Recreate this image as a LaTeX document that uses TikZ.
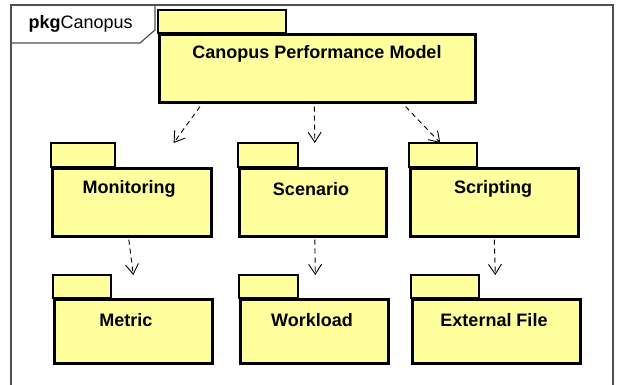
\documentclass[tikz,border=0pt]{standalone}
\usepackage{fontspec}
\setmainfont{Liberation Sans}
\usetikzlibrary{arrows.meta}

\definecolor{pkgyellow}{RGB}{255,255,158}
\definecolor{framegray}{RGB}{80,80,80}

\tikzset{
  pkgbody/.style={draw, line width=2.6pt, fill=pkgyellow, anchor=north west,
    inner sep=0pt, text depth=0pt},
  pkgtab/.style={draw, line width=2.6pt, fill=pkgyellow},
  pkgname/.style={font=\fontsize{18}{20}\selectfont\bfseries},
  dep/.style={line width=0.9pt, dash pattern=on 5pt off 4pt,
    -{Straight Barb[length=10pt,width=13pt,line width=0.9pt]}}
}

\begin{document}
\begin{tikzpicture}[x=1pt, y=-1pt]
    \useasboundingbox (0,0) rectangle (618,385);

    % Frame
    \draw[framegray, line width=1.2pt] (11,386) -- (11,5) -- (613,5) -- (613,386);
    \draw[framegray, line width=1.2pt] (11,43) -- (140,43) -- (155,30) -- (155,5);
    \node[anchor=west, font=\fontsize{18}{20}\selectfont] (frm) at (25,24) {\textbf{pkg}Canopus};

    % Canopus Performance Model
    \draw[pkgtab] (158,10) rectangle (286,33);
    \node[pkgbody, minimum width=316pt, minimum height=68pt] (cpm) at (158,33) {};
    \node[pkgname] (cpmt) at (317,54) {Canopus Performance Model};

    % Monitoring
    \draw[pkgtab] (51,143) rectangle (115,167);
    \node[pkgbody, minimum width=159pt, minimum height=68pt] (mon) at (51,167) {};
    \node[pkgname] (mont) at (129,189) {Monitoring};

    % Scenario
    \draw[pkgtab] (238,143) rectangle (298,167);
    \node[pkgbody, minimum width=147pt, minimum height=68pt] (scn) at (238,167) {};
    \node[pkgname] (scnt) at (311,189) {Scenario};

    % Scripting
    \draw[pkgtab] (409,143) rectangle (477,167);
    \node[pkgbody, minimum width=168pt, minimum height=68pt] (scr) at (409,167) {};
    \node[pkgname] (scrt) at (493,189) {Scripting};

    % Metric
    \draw[pkgtab] (53,275) rectangle (111,298);
    \node[pkgbody, minimum width=158pt, minimum height=64pt] (met) at (53,298) {};
    \node[pkgname] (mett) at (126,320) {Metric};

    % Workload
    \draw[pkgtab] (239,275) rectangle (298,298);
    \node[pkgbody, minimum width=148pt, minimum height=64pt] (wkl) at (239,298) {};
    \node[pkgname] (wklt) at (312,320) {Workload};

    % External File
    \draw[pkgtab] (411,275) rectangle (479,298);
    \node[pkgbody, minimum width=168pt, minimum height=64pt] (ext) at (411,298) {};
    \node[pkgname] (extt) at (494,320) {External File};

    % Dependencies
    \draw[dep] ([xshift=42pt,yshift=-3pt]cpm.south west) -- ([xshift=-39pt,yshift=24pt]mon.north east);
    \draw[dep] ([xshift=-3pt,yshift=-3pt]cpm.south) -- ([xshift=2pt,yshift=24pt]scn.north);
    \draw[dep] ([xshift=-71pt,yshift=-3pt]cpm.south east) -- ([xshift=-54pt,yshift=24pt]scr.north);
    \draw[dep] ([xshift=-3pt,yshift=-2pt]mon.south) -- ([yshift=23pt]met.north);
    \draw[dep] ([xshift=2pt,yshift=-2pt]scn.south) -- ([xshift=1pt,yshift=23pt]wkl.north);
    \draw[dep] ([yshift=-2pt]scr.south) -- ([xshift=-1pt,yshift=23pt]ext.north);
\end{tikzpicture}
\end{document}
